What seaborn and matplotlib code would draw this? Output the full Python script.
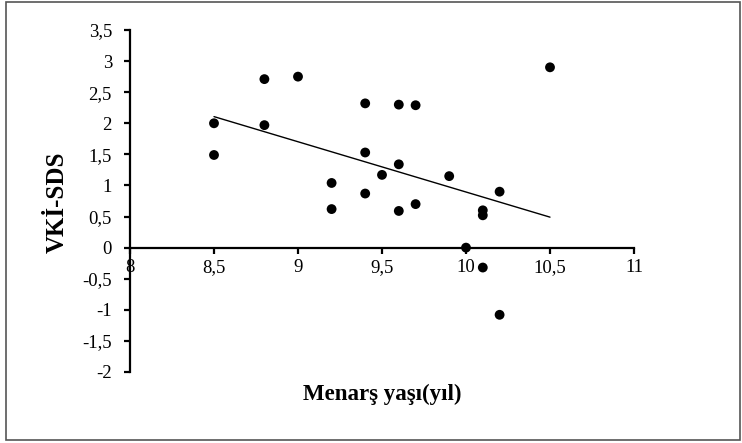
import numpy as np
import pandas as pd
import matplotlib
matplotlib.use("Agg")
import matplotlib.pyplot as plt
import seaborn as sns
from matplotlib.patches import Rectangle

# Age at menarche (years) and BMI-SDS for each participant
menarche_age = [8.5, 8.5, 8.8, 8.8, 9.0, 9.2, 9.2, 9.4, 9.4, 9.4, 9.5, 9.6,
                9.6, 9.6, 9.7, 9.7, 9.9, 10.0, 10.1, 10.1, 10.1, 10.2, 10.2, 10.5]
bmi_sds = [2.00, 1.49, 2.71, 1.97, 2.75, 1.04, 0.62, 2.32, 1.53, 0.87, 1.17, 2.30,
           1.34, 0.59, 2.29, 0.70, 1.15, 0.00, 0.60, 0.52, -0.32, 0.90, -1.08, 2.90]

x_ticks = [8, 8.5, 9, 9.5, 10, 10.5, 11]
y_ticks = [-2, -1.5, -1, -0.5, 0, 0.5, 1, 1.5, 2, 2.5, 3, 3.5]

df = pd.DataFrame({"age": menarche_age, "sds": bmi_sds})

sns.set_theme(style="white")
plt.rcParams["font.family"] = ["Liberation Serif", "DejaVu Serif"]
plt.rcParams["text.color"] = "black"

fig = plt.figure(figsize=(7.42, 4.43), dpi=100)
ax = fig.add_axes([130 / 742, 1 - 372 / 443, (634 - 130) / 742, (372 - 30) / 443])

sns.regplot(data=df, x="age", y="sds", ax=ax, ci=None, truncate=True,
            scatter_kws=dict(s=50, color="black", edgecolor="none", alpha=1, zorder=3),
            line_kws=dict(color="black", linewidth=1.0))

ax.set_xlim(8, 11)
ax.set_ylim(-2, 3.5)


def comma(v):
    s = f"{v:g}"
    return s.replace(".", ",")


ax.set_xticks(x_ticks)
ax.set_xticklabels([comma(v) for v in x_ticks])
ax.set_yticks(y_ticks)
ax.set_yticklabels([comma(v) for v in y_ticks])

for side in ("top", "right"):
    ax.spines[side].set_visible(False)
ax.spines["bottom"].set_position(("data", 0))
for side in ("left", "bottom"):
    ax.spines[side].set_color("black")
    ax.spines[side].set_linewidth(1.6)

ax.tick_params(axis="both", direction="out", length=4, width=1.6, color="black",
               labelsize=13.5, labelcolor="black", bottom=True, left=True)
ax.tick_params(axis="x", pad=4)
ax.tick_params(axis="y", pad=9)

ax.set_xlabel("")
ax.set_ylabel("")
fig.text(382 / 742, 1 - 394 / 443, "Menarş yaşı(yıl)", ha="center", va="center",
         fontsize=16.5, fontweight="bold", color="black")
fig.text(57 / 742, 1 - 202 / 443, "VKİ-SDS", ha="center", va="center",
         rotation=90, fontsize=18, fontweight="bold", color="black")

fig.patches.append(Rectangle((6 / 742, 3 / 443), (740 - 6) / 742, (441 - 3) / 443,
                             transform=fig.transFigure, fill=False,
                             edgecolor="#555555", linewidth=1.2))

fig.savefig("out.png", dpi=100)
